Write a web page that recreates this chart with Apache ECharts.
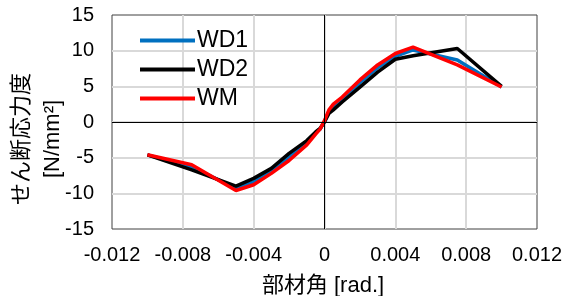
<!DOCTYPE html>
<html>
<head>
    <meta charset="utf-8">
    <title>せん断応力度 - 部材角</title>
    <script src="https://cdn.jsdelivr.net/npm/echarts@6/dist/echarts.min.js"></script>
    <style>
        html, body { margin: 0; padding: 0; background: #fff; }
        #main { width: 566px; height: 296px; }
    </style>
</head>
<body>
    <div id="main"></div>
    <script type="text/javascript">
        // 部材角 [rad.]
        var angles = [-0.01, -0.0075, -0.005, -0.004, -0.003, -0.002, -0.001, -0.0005, -0.00025, 0,
                      0.00025, 0.0005, 0.001, 0.002, 0.003, 0.004, 0.005, 0.0075, 0.01];
        // せん断応力度 [N/mm2]
        var wd1 = [-4.6, -6.3, -9.3, -8.4, -6.9, -4.9, -2.9, -1.5, -1.0, 0.1,
                   1.5, 2.1, 3.2, 5.5, 7.6, 9.2, 10.1, 8.7, 4.9];
        var wd2 = [-4.6, -6.7, -9.0, -7.9, -6.5, -4.4, -2.6, -1.4, -0.9, 0.0,
                   1.2, 1.7, 2.8, 4.9, 7.0, 8.8, 9.3, 10.3, 5.0];
        var wm  = [-4.6, -6.0, -9.6, -8.8, -7.2, -5.4, -3.2, -1.7, -1.0, 0.2,
                   1.7, 2.5, 3.5, 5.9, 8.0, 9.6, 10.5, 8.0, 4.9];

        function pairs(ys) {
            var out = [];
            for (var i = 0; i < angles.length; i++) {
                out.push([angles[i], ys[i]]);
            }
            return out;
        }

        var font = '"Liberation Sans", Arial, "Noto Sans CJK JP", sans-serif';

        var chart = echarts.init(document.getElementById('main'));
        chart.setOption({
            animation: false,
            grid: {
                left: 112, right: 29, top: 15, bottom: 67,
                show: true,
                borderColor: '#404040',
                borderWidth: 1
            },
            legend: {
                data: ['WD1', 'WD2', 'WM'],
                orient: 'vertical',
                icon: 'rect',
                left: 140,
                top: 29,
                padding: 0,
                itemWidth: 55,
                itemHeight: 4,
                itemGap: 6,
                textStyle: { fontSize: 23, fontFamily: font, color: '#000', padding: [0, 0, 0, -3] }
            },
            xAxis: {
                type: 'value',
                min: -0.012, max: 0.012, interval: 0.004,
                axisLine: { show: false },
                axisTick: { show: false },
                axisLabel: {
                    fontSize: 20, fontFamily: font, color: '#000', margin: 16,
                    formatter: function (v) {
                        if (Math.abs(v) < 1e-9) return '0';
                        return String(+v.toFixed(3));
                    }
                },
                splitLine: {
                    show: true, showMinLine: false, showMaxLine: false,
                    lineStyle: { color: '#d9d9d9', width: 2 }
                }
            },
            yAxis: {
                type: 'value',
                min: -15, max: 15, interval: 5,
                axisLine: { show: false },
                axisTick: { show: false },
                axisLabel: { fontSize: 20, fontFamily: font, color: '#000', margin: 18 },
                splitLine: {
                    show: true, showMinLine: false, showMaxLine: false,
                    lineStyle: { color: '#d9d9d9', width: 2 }
                }
            },
            graphic: [
                {
                    type: 'text',
                    x: 37, y: 139,
                    rotation: Math.PI / 2,
                    style: {
                        text: 'せん断応力度\n[N/mm²]',
                        font: '22px ' + font,
                        fill: '#000',
                        textAlign: 'center',
                        textVerticalAlign: 'middle',
                        lineHeight: 31
                    }
                },
                {
                    type: 'text',
                    x: 323, y: 286,
                    style: {
                        text: '部材角 [rad.]',
                        font: '22px ' + font,
                        fill: '#000',
                        textAlign: 'center',
                        textVerticalAlign: 'middle'
                    }
                }
            ],
            series: [
                {
                    // 原点の軸線
                    name: 'zero',
                    type: 'line',
                    z: 1,
                    data: [[0, 0]],
                    showSymbol: false,
                    lineStyle: { opacity: 0 },
                    markLine: {
                        silent: true,
                        symbol: 'none',
                        label: { show: false },
                        lineStyle: { color: '#000', width: 1, type: 'solid' },
                        data: [{ xAxis: 0 }, { yAxis: 0 }]
                    }
                },
                {
                    name: 'WD1',
                    type: 'line',
                    symbol: 'none',
                    color: '#0070c0',
                    lineStyle: { width: 3.5 },
                    data: pairs(wd1)
                },
                {
                    name: 'WD2',
                    type: 'line',
                    symbol: 'none',
                    color: '#000000',
                    lineStyle: { width: 3.5 },
                    data: pairs(wd2)
                },
                {
                    name: 'WM',
                    type: 'line',
                    symbol: 'none',
                    color: '#ff0000',
                    lineStyle: { width: 3.5 },
                    data: pairs(wm)
                }
            ]
        });
    </script>
</body>
</html>
